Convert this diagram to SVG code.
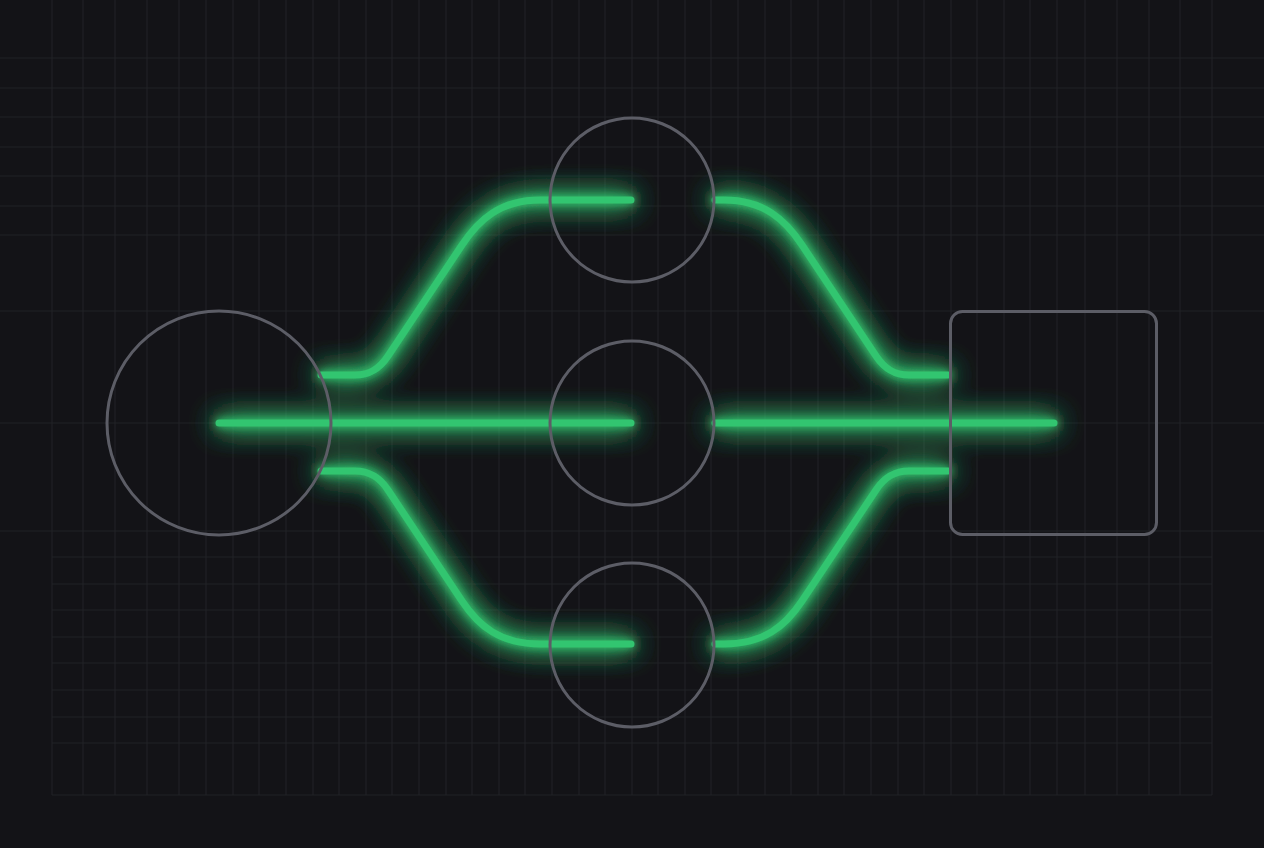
<svg xmlns="http://www.w3.org/2000/svg" width="1264" height="848" viewBox="0 0 1264 848">
  <defs>
    <style>
      .bg { fill: #131317; }
      .grid line { stroke: #212227; stroke-width: 1.1; }
      .node { fill: none; stroke: #5c5d66; stroke-width: 3; }
      .wire { fill: none; stroke: #33c56f; stroke-width: 7; stroke-linecap: round; stroke-linejoin: round; }
    </style>
    <filter id="glow" filterUnits="userSpaceOnUse" x="0" y="0" width="1264" height="848">
      <feGaussianBlur in="SourceGraphic" stdDeviation="5" result="b1"/>
      <feGaussianBlur in="SourceGraphic" stdDeviation="14" result="b2"/>
      <feComponentTransfer in="b2" result="b2a">
        <feFuncA type="linear" slope="2.6"/>
      </feComponentTransfer>
      <feComponentTransfer in="b1" result="b1a">
        <feFuncA type="linear" slope="1.3"/>
      </feComponentTransfer>
      <feMerge>
        <feMergeNode in="b2a"/>
        <feMergeNode in="b1a"/>
        <feMergeNode in="SourceGraphic"/>
      </feMerge>
    </filter>
  </defs>

  <rect class="bg" x="0" y="0" width="1264" height="848"/>

  <g id="grid" class="grid">
    <line x1="52" y1="0" x2="52" y2="795"/>
    <line x1="83" y1="0" x2="83" y2="795"/>
    <line x1="115" y1="0" x2="115" y2="795"/>
    <line x1="147" y1="0" x2="147" y2="795"/>
    <line x1="179" y1="0" x2="179" y2="795"/>
    <line x1="206" y1="0" x2="206" y2="795"/>
    <line x1="233" y1="0" x2="233" y2="795"/>
    <line x1="259" y1="0" x2="259" y2="795"/>
    <line x1="286" y1="0" x2="286" y2="795"/>
    <line x1="313" y1="0" x2="313" y2="795"/>
    <line x1="339" y1="0" x2="339" y2="795"/>
    <line x1="366" y1="0" x2="366" y2="795"/>
    <line x1="392" y1="0" x2="392" y2="795"/>
    <line x1="419" y1="0" x2="419" y2="795"/>
    <line x1="446" y1="0" x2="446" y2="795"/>
    <line x1="472" y1="0" x2="472" y2="795"/>
    <line x1="499" y1="0" x2="499" y2="795"/>
    <line x1="525" y1="0" x2="525" y2="795"/>
    <line x1="552" y1="0" x2="552" y2="795"/>
    <line x1="579" y1="0" x2="579" y2="795"/>
    <line x1="605" y1="0" x2="605" y2="795"/>
    <line x1="632" y1="0" x2="632" y2="795"/>
    <line x1="658" y1="0" x2="658" y2="795"/>
    <line x1="685" y1="0" x2="685" y2="795"/>
    <line x1="711" y1="0" x2="711" y2="795"/>
    <line x1="738" y1="0" x2="738" y2="795"/>
    <line x1="765" y1="0" x2="765" y2="795"/>
    <line x1="791" y1="0" x2="791" y2="795"/>
    <line x1="818" y1="0" x2="818" y2="795"/>
    <line x1="844" y1="0" x2="844" y2="795"/>
    <line x1="871" y1="0" x2="871" y2="795"/>
    <line x1="898" y1="0" x2="898" y2="795"/>
    <line x1="924" y1="0" x2="924" y2="795"/>
    <line x1="951" y1="0" x2="951" y2="795"/>
    <line x1="977" y1="0" x2="977" y2="795"/>
    <line x1="1004" y1="0" x2="1004" y2="795"/>
    <line x1="1030" y1="0" x2="1030" y2="795"/>
    <line x1="1057" y1="0" x2="1057" y2="795"/>
    <line x1="1085" y1="0" x2="1085" y2="795"/>
    <line x1="1117" y1="0" x2="1117" y2="795"/>
    <line x1="1149" y1="0" x2="1149" y2="795"/>
    <line x1="1180" y1="0" x2="1180" y2="795"/>
    <line x1="1212" y1="0" x2="1212" y2="795"/>
    <line x1="0" y1="58" x2="1264" y2="58"/>
    <line x1="0" y1="88" x2="1264" y2="88"/>
    <line x1="0" y1="117" x2="1264" y2="117"/>
    <line x1="0" y1="147" x2="1264" y2="147"/>
    <line x1="0" y1="176" x2="1264" y2="176"/>
    <line x1="0" y1="206" x2="1264" y2="206"/>
    <line x1="0" y1="235" x2="1264" y2="235"/>
    <line x1="0" y1="311" x2="1264" y2="311"/>
    <line x1="0" y1="423" x2="1264" y2="423"/>
    <line x1="0" y1="531" x2="1264" y2="531"/>
    <line x1="52" y1="557" x2="1212" y2="557"/>
    <line x1="52" y1="584" x2="1212" y2="584"/>
    <line x1="52" y1="610" x2="1212" y2="610"/>
    <line x1="52" y1="637" x2="1212" y2="637"/>
    <line x1="52" y1="663" x2="1212" y2="663"/>
    <line x1="52" y1="690" x2="1212" y2="690"/>
    <line x1="52" y1="717" x2="1212" y2="717"/>
    <line x1="52" y1="743" x2="1212" y2="743"/>
    <line x1="52" y1="795" x2="1212" y2="795"/>
  </g>

  <g id="connectors" filter="url(#glow)">
    <path id="c-mid-left" class="wire" d="M219,423 H631"/>
    <path id="c-mid-right" class="wire" d="M715,423 H1054"/>
    <path id="c-top-left" class="wire" d="M321,375 H355 C370,375 379.7,368.5 388,356 L462,245 C478.6,220 500,200 540,200 H631"/>
    <path id="c-bot-left" class="wire" d="M321,471 H355 C370,471 379.7,477.5 388,490 L462,601 C478.6,626 500,644 540,644 H631"/>
    <path id="c-top-right" class="wire" d="M715,200 H724 C764,200 785.4,220 802,245 L876,356 C884.3,368.5 894,375 909,375 H948"/>
    <path id="c-bot-right" class="wire" d="M715,644 H724 C764,644 785.4,626 802,601 L876,490 C884.3,477.5 894,471 909,471 H948"/>
  </g>

  <g id="node-source">
    <circle class="node" cx="219" cy="423" r="112"/>
  </g>
  <g id="node-top">
    <circle class="node" cx="632" cy="200" r="82"/>
  </g>
  <g id="node-middle">
    <circle class="node" cx="632" cy="423" r="82"/>
  </g>
  <g id="node-bottom">
    <circle class="node" cx="632" cy="645" r="82"/>
  </g>
  <g id="node-sink">
    <rect class="node" x="950.5" y="311.5" width="206" height="223" rx="12" ry="12"/>
  </g>
</svg>
